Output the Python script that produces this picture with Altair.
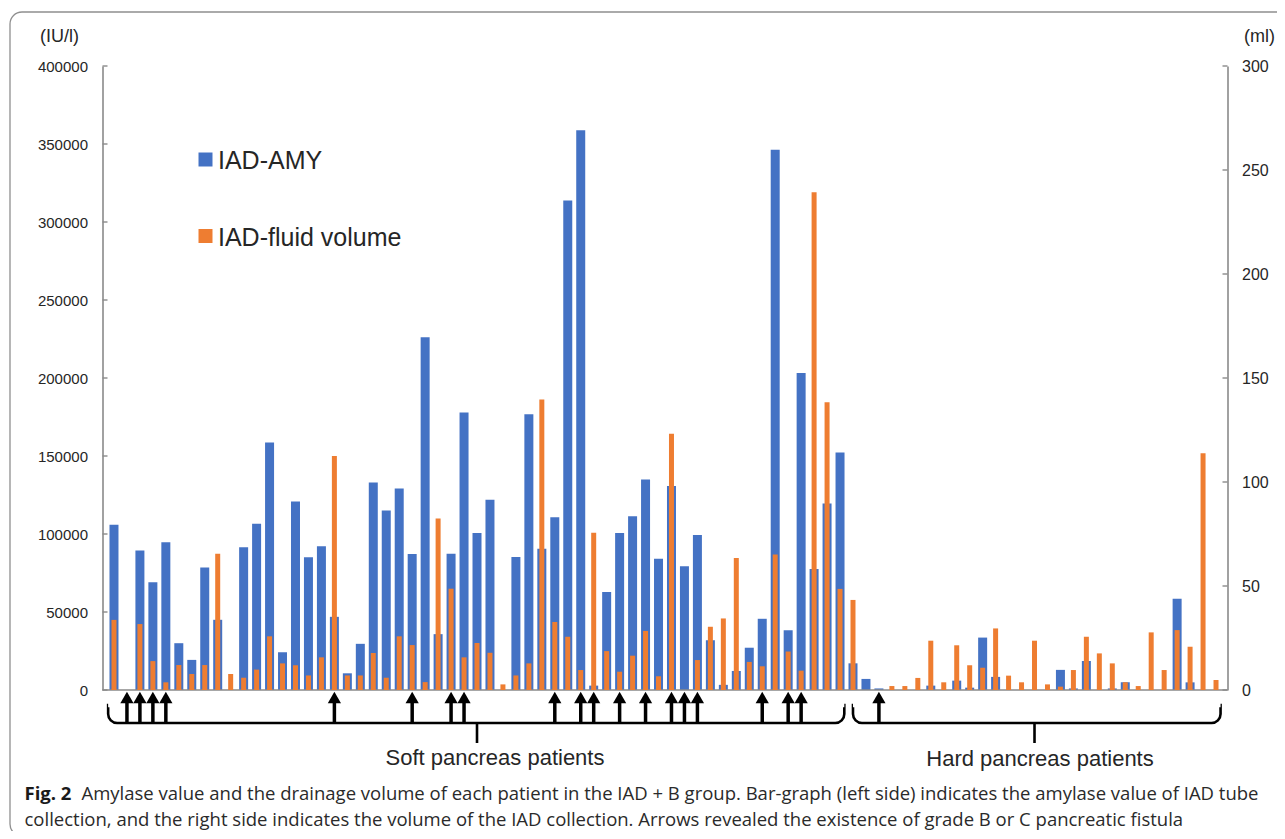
import altair as alt
import pandas as pd

# ---------------- data ----------------
patients = list(range(1, 87))
amylase = [106000, 0, 89500, 69000, 94700, 30000, 19300, 78600, 45000, 0,
           91500, 106500, 158600, 24200, 120900, 85100, 92100, 46900, 10700, 29600,
           133000, 115100, 129200, 87200, 226100, 35800, 87400, 177900, 100700, 121900,
           0, 85300, 176800, 90600, 110800, 313800, 358800, 2800, 62800, 100700,
           111400, 135000, 84200, 130700, 79300, 99300, 31900, 3300, 12200, 27100,
           45650, 346300, 38300, 203200, 77600, 119600, 152200, 17100, 7100, 1000,
           0, 0, 0, 2800, 0, 6000, 1500, 33600, 8400, 0,
           0, 0, 0, 12900, 1000, 18600, 0, 1000, 4900, 0,
           0, 0, 58500, 4900, 0, 0]
volume = [33.7, 0, 31.7, 13.9, 3.7, 12.0, 7.7, 12.0, 65.5, 7.7,
          5.9, 9.8, 25.8, 12.8, 11.9, 7.0, 15.7, 112.5, 7.0, 7.0,
          17.8, 5.9, 25.8, 21.6, 3.8, 82.5, 48.7, 15.7, 22.6, 17.9,
          2.7, 7.0, 12.8, 139.7, 32.7, 25.6, 9.6, 75.6, 18.7, 8.8,
          16.5, 28.4, 6.6, 123.2, 0, 14.4, 30.4, 34.4, 63.5, 13.5,
          11.4, 65.2, 18.5, 9.3, 239.3, 138.4, 48.6, 43.3, 0, 0,
          1.9, 1.9, 5.8, 23.7, 3.7, 21.5, 11.9, 10.7, 29.6, 6.9,
          3.7, 23.7, 2.7, 1.6, 9.6, 25.6, 17.6, 12.8, 3.7, 1.9,
          27.7, 9.6, 28.8, 20.8, 113.8, 4.8]
fistula_patients = [2, 3, 4, 5, 18, 24, 27, 28, 35, 37, 38, 40, 42, 44, 45, 46,
                    51, 53, 54, 60]
group_names = ["Soft pancreas patients", "Hard pancreas patients"]
group_first = [1, 58]
group_last = [57, 86]
group_mid = [29, 72]
left_ticks = [0, 50000, 100000, 150000, 200000, 250000, 300000, 350000, 400000]
right_ticks = [0, 50, 100, 150, 200, 250, 300]
series_names = ["IAD-AMY", "IAD-fluid volume"]
caption_bold = "Fig. 2"
caption_line1 = ("Amylase value and the drainage volume of each patient in the IAD + B group. "
                 "Bar-graph (left side) indicates the amylase value of IAD tube")
caption_line2 = ("collection, and the right side indicates the volume of the IAD collection. "
                 "Arrows revealed the existence of grade B or C pancreatic fistula")

# ---------------- style ----------------
BLUE = "#4472C4"
ORANGE = "#EE7D31"
AXC = "#8a8a8a"
TXT = "#262626"
FONT = "Liberation Sans"
CAPFONT = "Open Sans"
CAPSIZE = 18.5
W, H = 1125, 624

df = pd.DataFrame({"patient": patients, "amy": amylase, "vol": volume})
arr_df = pd.DataFrame({"patient": fistula_patients})
br_df = pd.DataFrame({
    "name": group_names,
    "start": [group_first[0] - 0.45, group_first[1] + 0.0],
    "end": [group_last[0] + 0.33, group_last[1] + 0.35],
    "mid": group_mid,
})
lt_df = pd.DataFrame({"t": left_ticks})
rt_df = pd.DataFrame({"t": right_ticks})
one = pd.DataFrame({"a": [0]})

XS = alt.Scale(domain=[0.5, 86.5], nice=False, zero=False)
YL = alt.Scale(domain=[0, 400000], nice=False)
YR = alt.Scale(domain=[0, 300], nice=False)

AXL = alt.Axis(orient="left", values=left_ticks, ticks=False, grid=False,
               title=None, format="d", labelPadding=15, labelFont=FONT,
               labelFontSize=15, labelColor=TXT, domainColor=AXC, domainWidth=1.6)
AXR = alt.Axis(orient="right", values=right_ticks, ticks=False, grid=False,
               title=None, format="d", labelPadding=14, labelFont=FONT,
               labelFontSize=16, labelColor=TXT, domainColor=AXC, domainWidth=1.6)

xnone = alt.X("patient:Q", scale=XS, axis=None)

blue = alt.Chart(df).mark_bar(size=9, color=BLUE).encode(
    x=xnone, y=alt.Y("amy:Q", scale=YL, axis=AXL))
lticks = alt.Chart(lt_df).mark_rule(color=AXC, strokeWidth=1.4).encode(
    y=alt.Y("t:Q", scale=YL, axis=AXL), x=alt.value(0), x2=alt.value(5))
baseline = alt.Chart(one).mark_rule(color=AXC, strokeWidth=1.6).encode(
    x=alt.value(0), x2=alt.value(W), y=alt.value(H))

border = alt.Chart(one).mark_rect(fillOpacity=0, stroke="#8f8f8f", strokeWidth=1.3,
                                  cornerRadius=12).encode(
    x=alt.value(-92.5), x2=alt.value(1250), y=alt.value(-54), y2=alt.value(770))

unit_l = alt.Chart(one).mark_text(text="(IU/l)", font=FONT, fontSize=18, color=TXT,
                                  align="center", baseline="middle").encode(
    x=alt.value(-43), y=alt.value(-29))
unit_r = alt.Chart(one).mark_text(text="(ml)", font=FONT, fontSize=18, color=TXT,
                                  align="center", baseline="middle").encode(
    x=alt.value(1157), y=alt.value(-29))

leg_sq1 = alt.Chart(one).mark_square(size=196, color=BLUE, opacity=1).encode(
    x=alt.value(103), y=alt.value(93.5))
leg_sq2 = alt.Chart(one).mark_square(size=196, color=ORANGE, opacity=1).encode(
    x=alt.value(103), y=alt.value(170))
leg_t1 = alt.Chart(one).mark_text(text=series_names[0], font=FONT, fontSize=25,
                                  color=TXT, align="left", baseline="middle").encode(
    x=alt.value(115.5), y=alt.value(95))
leg_t2 = alt.Chart(one).mark_text(text=series_names[1], font=FONT, fontSize=25,
                                  color=TXT, align="left", baseline="middle").encode(
    x=alt.value(115.5), y=alt.value(172))

br_rect = alt.Chart(br_df).mark_rect(fill="white", stroke="black", strokeWidth=2.6,
                                     cornerRadiusBottomLeft=9,
                                     cornerRadiusBottomRight=9).encode(
    x=alt.X("start:Q", scale=XS, axis=None), x2="end:Q",
    y=alt.value(639), y2=alt.value(657))
br_cover = alt.Chart(br_df).mark_rule(color="white", strokeWidth=4.5).encode(
    x=alt.X("start:Q", scale=XS, axis=None), x2="end:Q", y=alt.value(639))
br_mid = alt.Chart(br_df).mark_rule(color="black", strokeWidth=2.6).encode(
    x=alt.X("mid:Q", scale=XS, axis=None), y=alt.value(657), y2=alt.value(677))

lab_soft = alt.Chart(one).mark_text(text=group_names[0], font=FONT, fontSize=22,
                                    color=TXT, align="center",
                                    baseline="alphabetic").encode(
    x=alt.value(392.5), y=alt.value(699))
lab_hard = alt.Chart(one).mark_text(text=group_names[1], font=FONT, fontSize=22,
                                    color=TXT, align="center",
                                    baseline="alphabetic").encode(
    x=alt.value(937.5), y=alt.value(700))

shafts = alt.Chart(arr_df).mark_rule(color="black", strokeWidth=3.5).encode(
    x=xnone, y=alt.value(635), y2=alt.value(657))
heads = alt.Chart(arr_df).mark_point(shape="triangle-up", size=175, filled=True,
                                     color="black", opacity=1).encode(
    x=xnone, y=alt.value(631.5))

cap_b = alt.Chart(one).mark_text(text=caption_bold, font=CAPFONT, fontSize=CAPSIZE,
                                 fontWeight="bold", color="#1a1a1a", align="left",
                                 baseline="alphabetic").encode(
    x=alt.value(-78), y=alt.value(734))
cap_1 = alt.Chart(one).mark_text(text=caption_line1, font=CAPFONT, fontSize=CAPSIZE,
                                 color="#2a2a2a", align="left",
                                 baseline="alphabetic").encode(
    x=alt.value(-21), y=alt.value(734))
cap_2 = alt.Chart(one).mark_text(text=caption_line2, font=CAPFONT, fontSize=CAPSIZE,
                                 color="#2a2a2a", align="left",
                                 baseline="alphabetic").encode(
    x=alt.value(-78), y=alt.value(760))

orange = alt.Chart(df).mark_bar(size=5, color=ORANGE).encode(
    x=xnone, y=alt.Y("vol:Q", scale=YR, axis=AXR))
rticks = alt.Chart(rt_df).mark_rule(color=AXC, strokeWidth=1.4).encode(
    y=alt.Y("t:Q", scale=YR, axis=AXR), x=alt.value(W - 5), x2=alt.value(W))

left = alt.layer(border, blue, lticks, baseline, unit_l, unit_r, leg_sq1, leg_sq2,
                 leg_t1, leg_t2, br_rect, br_cover, br_mid, lab_soft, lab_hard,
                 shafts, heads, cap_b, cap_1, cap_2)
right = alt.layer(orange, rticks)

chart = alt.layer(left, right).resolve_scale(y="independent").properties(
    width=W, height=H,
    autosize=alt.AutoSizeParams(type="none"),
    padding={"left": 94.5, "top": 58, "right": 49.5, "bottom": 141},
).configure_view(stroke=None)

chart.save("out.html", embed_options={"renderer": "svg", "actions": False})
